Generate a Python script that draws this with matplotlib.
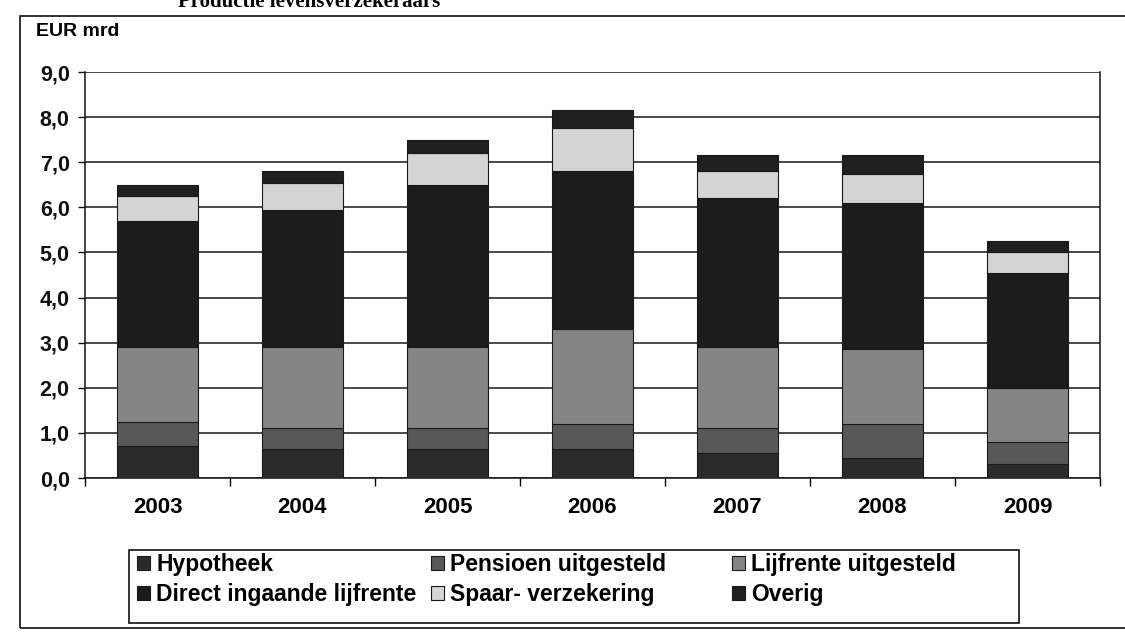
import numpy as np
import matplotlib
matplotlib.use('Agg')
import matplotlib.pyplot as plt
from matplotlib.patches import Rectangle

plt.rcParams['font.family'] = ['Liberation Sans', 'DejaVu Sans']
plt.rcParams['font.weight'] = 'bold'

# data (EUR mrd)
years = ['2003', '2004', '2005', '2006', '2007', '2008', '2009']
hypotheek = [0.70, 0.65, 0.65, 0.65, 0.55, 0.45, 0.30]
pensioen = [0.55, 0.45, 0.45, 0.55, 0.55, 0.75, 0.50]
lijfrente = [1.65, 1.80, 1.80, 2.10, 1.80, 1.65, 1.20]
direct = [2.80, 3.05, 3.60, 3.50, 3.30, 3.25, 2.55]
spaar = [0.55, 0.60, 0.70, 0.95, 0.60, 0.65, 0.45]
overig = [0.25, 0.25, 0.30, 0.40, 0.35, 0.40, 0.25]

series_names = ['Hypotheek', 'Pensioen uitgesteld', 'Lijfrente uitgesteld',
                'Direct ingaande lijfrente', 'Spaar- verzekering', 'Overig']
series_vals = [hypotheek, pensioen, lijfrente, direct, spaar, overig]
colors = ['#2b2b2b', '#585858', '#858585', '#1c1c1c', '#d4d4d4', '#202020']

yticks = [0, 1, 2, 3, 4, 5, 6, 7, 8, 9]
ytick_labels = ['0,0', '1,0', '2,0', '3,0', '4,0', '5,0', '6,0', '7,0', '8,0', '9,0']

W, H = 1125, 635
fig = plt.figure(figsize=(W/100, H/100), dpi=100)
ax = fig.add_axes([85/W, 1-478/H, (1100-85)/W, (478-72)/H])

x = np.arange(len(years))
bottom = np.zeros(len(years))
bars = []
for name, vals, c in zip(series_names, series_vals, colors):
    b = ax.bar(x, vals, width=0.56, bottom=bottom, color=c, edgecolor='#1a1a1a',
               linewidth=0.8, label=name, zorder=3)
    bars.append(b)
    bottom += np.array(vals)

ax.set_xlim(-0.5, len(years)-0.5)
ax.set_ylim(0, 9)
ax.set_yticks(yticks)
ax.set_yticklabels(ytick_labels, fontsize=15.5, fontweight='bold')
ax.yaxis.grid(True, color='#2a2a2a', linewidth=1.2, zorder=0)
ax.set_axisbelow(True)
ax.tick_params(axis='y', direction='out', length=5, width=1, pad=6, colors='#111111')

ax.set_xticks(x)
ax.set_xticklabels(years, fontsize=16, fontweight='bold')
ax.set_xticks(np.arange(-0.5, len(years)), minor=True)
ax.tick_params(axis='x', which='major', length=0, pad=14)
ax.tick_params(axis='x', which='minor', direction='out', length=6, width=1)

for s in ['left', 'bottom', 'right']:
    ax.spines[s].set_color('#111111')
    ax.spines[s].set_linewidth(1.1)
ax.spines['top'].set_visible(False)

fig.text(36/W, 1-31/H, 'EUR mrd', fontsize=14, fontweight='bold', va='center', ha='left')

# partly cut title at the top of the scanned page
fig.text(178/W, 1-7/H, 'Productie levensverzekeraars', fontsize=15,
         family='Liberation Serif', fontweight='bold', va='baseline', ha='left')

# outer frame of the figure box and the legend frame
fig.patches.append(Rectangle((20/W, 1-628/H), 1.2, (628-16)/H, transform=fig.transFigure,
                             fill=False, edgecolor='#111111', linewidth=1.2))
fig.patches.append(Rectangle((129/W, 1-623/H), (1019-129)/W, (623-550)/H,
                             transform=fig.transFigure, fill=False,
                             edgecolor='#111111', linewidth=1.2))

# legend, three columns laid out like the original
col_x = [137, 431, 732]
order = [[0, 3], [1, 4], [2, 5]]
for cx, idx in zip(col_x, order):
    leg = fig.legend([bars[i] for i in idx], [series_names[i] for i in idx],
                     loc='upper left', bbox_to_anchor=(cx/W, 1-553/H),
                     bbox_transform=fig.transFigure, frameon=False,
                     fontsize=16.5, borderpad=0, borderaxespad=0,
                     handlelength=0.55, handleheight=0.6, handletextpad=0.3,
                     labelspacing=0.3)
    for t in leg.get_texts():
        t.set_fontweight('bold')

fig.savefig('out.png', dpi=100)
